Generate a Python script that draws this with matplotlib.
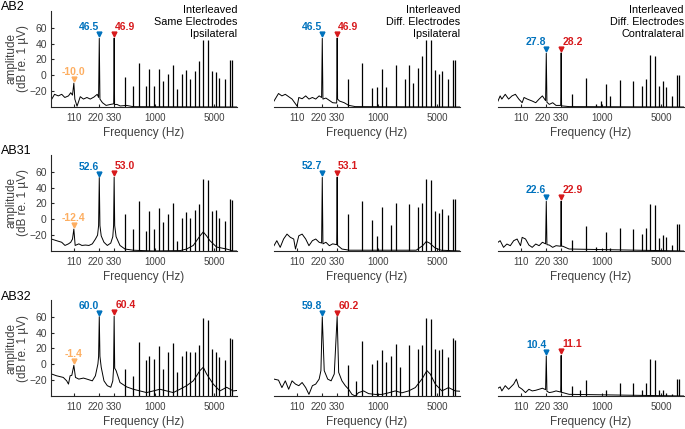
import numpy as np
import matplotlib.pyplot as plt
from matplotlib.transforms import offset_copy, ScaledTranslation

plt.rcParams["font.family"] = ["Liberation Sans", "DejaVu Sans"]

subjects = ["AB2", "AB31", "AB32"]
conditions = ["Interleaved\nSame Electrodes\nIpsilateral",
              "Interleaved\nDiff. Electrodes\nIpsilateral",
              "Interleaved\nDiff. Electrodes\nContralateral"]
xticks = [110, 220, 330, 1000, 5000]
yticks = [-20, 0, 20, 40, 60]

# labelled response peaks (dB re. 1 uV), rows = subjects, cols = conditions
amp_220 = [[46.5, 46.5, 27.8], [52.6, 52.7, 22.6], [60.0, 59.8, 10.4]]
amp_330 = [[46.9, 46.9, 28.2], [53.0, 53.1, 22.9], [60.4, 60.2, 11.1]]
amp_110 = [-10.0, -12.4, -1.4]  # same-electrode condition only

# stimulation artefact lines (Hz) and their heights per panel (None = absent)
art_freq = [443, 546, 655, 778, 852, 977, 1109, 1260, 1443, 1639, 1811, 2076,
            2316, 2606, 2958, 3329, 3680, 4293, 4745, 5292, 5739, 6824, 7745, 8254]
art_ab2_same = [-2, -13, 15.4, -14, 8, -13, 8, -7, 2, 12.5, -17, 2,
                7, -4.5, 6, 17.5, 44.6, 44, 5, 4, -3, -5, 19.6, 19]
art_ab2_diff = [-4.6, None, 16, None, -16, -14.6, 8, -14.6, None, 13, None, -4.6,
                13, -10, 9, 24, 44.6, 44, 7, 2, 6, -5, 19, 19]
art_ab2_contra = [-24, None, -3, None, -36, -33, -11, -26, None, -5.4, None, None,
                  -6.7, None, -13, -4.6, 26, 24, -14, -6.7, -14.6, -26, 0.8, 0.8]
art_ab31_same = [6.4, -12, 23, -14.5, 10.6, -12, 13.6, -3, 6.4, 20, -27, 2,
                 9, 2, 12, 19, 51, 49.5, 10.6, 12, 2, -2, 26, 24]
art_ab31_diff = [6.4, None, 23, None, -0.7, -21, 15, None, -7, 20, None, None,
                 19, None, 15, 21, 51, 49.5, 10.6, 8.5, 12.7, 5, 26, 25]
art_ab31_contra = [-26, None, -8, None, -35, None, -15.7, -36, None, -11.5, None, None,
                   -12, None, -18, -11.5, 19, 17.7, -24, -20, -22, -33, -6, -6]
art_ab32_same = [-6, -14.5, 28, 5, 10, 7, 22.5, -6, 15, 27, -10, 11,
                 16.6, 15, 15, 24, 58, 55.7, 19.6, 15, 9, 5, 33.6, 32]
art_ab32_diff = [-0.4, -21, 29, None, 0.4, 5, 17.4, 2.6, 11, 26, -3, None,
                 24.7, None, 19.6, 23.8, 58, 56.6, 19.6, 17.4, 19.6, 9, 33.6, 31]
art_ab32_contra = [-27, -33, -20, None, None, None, -33, None, None, -24, None, None,
                   -24, None, -33, -23, 7, 5.5, -33, -33, -36, -37, -18.5, -19]

# background (noise floor)
f_ab2_same = [60, 65, 72, 79, 86, 95, 101, 106, 113, 120, 131, 143, 157, 172, 190, 208,
              216, 224, 240, 265, 300, 326, 334, 355, 390, 460, 556, 9400]
db_ab2_same = [-30.4, -24, -26, -24, -28, -26, -22, -25, -30, -39, -27, -30, -28, -30, -27.5, -24,
               -28, -30, -34.6, -38, -36.7, -36, -37, -36.7, -38.7, -38, -39.6, -40]
f_ab2_diff = [59, 66.7, 73.2, 80.3, 88, 96.5, 111, 116, 127, 140, 153, 168, 184, 202,
              216, 224, 243, 267, 292, 326, 334, 352, 400, 451, 541, 9400]
db_ab2_diff = [-32.5, -23, -26, -24, -27, -30, -39, -28, -29.6, -26, -30, -28, -30, -26,
               -28, -30, -28.75, -31.7, -34.6, -35, -30, -32.5, -34.6, -37.9, -39.5, -40]
f_ab2_contra = [59, 62.6, 65.5, 71.9, 78.8, 86.4, 94.8, 104, 114, 120, 131, 150, 165, 181,
                198, 216, 224, 239, 262, 287, 326, 334, 345, 410, 9400]
db_ab2_contra = [-32.5, -26, -30, -24, -30, -26, -24, -30, -34.6, -28, -30, -32.5, -34.6, -30,
                 -26, -32, -34, -36.7, -34.6, -38, -38, -38.7, -38.7, -39.5, -40]
f_ab31_same = [60, 68.6, 79, 86.4, 95, 101, 106, 114, 126, 137, 151, 166, 182, 198, 210,
               216, 224, 232, 250, 274, 301, 318, 325, 335, 348, 387, 443, 556, 960,
               2000, 2380, 2853, 3125, 3422, 3748, 4104, 4493, 5388, 7074, 8485, 9400]
db_ab31_same = [-25, -27, -29, -33, -31, -29, -25, -33, -31, -33, -32.5, -33, -31, -25, -20,
                -8, -8, -21, -29, -33, -30, -22, -8, -8, -22, -33, -37.5, -39, -40,
                -39.5, -37.5, -33, -27, -21, -16, -21, -27, -35, -37.5, -40, -40]
f_ab31_diff = [59, 63.7, 69.9, 76.6, 84.1, 92.2, 101, 106, 116, 127, 140, 153, 168, 184, 202,
               216, 224, 243, 267, 292, 326, 334, 344, 376, 460, 2850, 3420, 3750, 4100,
               4750, 5600, 9400]
db_ab31_diff = [-33.3, -27, -35.4, -24.9, -18.7, -22.8, -24.9, -37.5, -20.8, -18.7, -24.9, -33.3,
                -27, -24.9, -29, -30, -31, -29, -33.3, -31, -32, -33, -34, -37.5, -39, -39,
                -33, -28, -30, -36, -39, -40]
f_ab31_contra = [59, 62.6, 68.6, 75.2, 82.5, 90.5, 99.3, 109, 114, 125, 137, 150, 165, 181,
                 198, 216, 224, 239, 262, 287, 326, 334, 345, 410, 9400]
db_ab31_contra = [-29, -27, -35.4, -31.2, -33.3, -27, -24.9, -33.3, -22.8, -24.9, -32.5, -35.4,
                  -31.2, -33.3, -29, -31, -32, -32.5, -35.4, -33.3, -34, -34, -34, -37.5, -40]
f_ab32_same = [60, 68.6, 82.5, 90.5, 95, 99.3, 104, 115, 126, 143, 157, 182, 198, 212, 216,
               224, 232, 250, 274, 301, 318, 325, 335, 348, 387, 464, 556, 667, 800, 959,
               1151, 1380, 1654, 1984, 2380, 2853, 3422, 3748, 4104, 4920, 5900, 7074,
               8485, 9400]
db_ab32_same = [-12.3, -14.5, -16.6, -20.9, -25, -14.5, -14, -16.6, -18.7, -17.4, -18.7, -20.9,
                -14.5, 0.4, 10, 10, -3.8, -20.9, -27, -29, -21, -5, -5, -8, -23, -28.5,
                -31.5, -33.6, -35.7, -33.6, -31.5, -33.6, -35.7, -31.5, -27, -20.9, -8,
                -3.8, -12.3, -25, -33.6, -29, -33.6, -33]
f_ab32_diff = [59, 66.7, 73.2, 80.3, 88, 96.5, 106, 116, 127, 140, 153, 168, 184, 202, 212,
               232, 255, 280, 305, 344, 376, 412, 451, 494, 541, 593, 679, 778, 933, 1119,
               1342, 1610, 1930, 2316, 2777, 3329, 3814, 4178, 4790, 5739, 6885, 8254, 9400]
db_ab32_diff = [-18.7, -20, -29.4, -20.9, -31.5, -20.9, -25, -27, -23, -29.4, -37.9, -27, -25,
                -18.7, -8, -8, -18.7, -20.9, -12.3, -10.2, -20.9, -27, -31.5, -37.9, -40,
                -35.7, -33.6, -37, -38, -38, -36, -33.6, -36, -33.6, -29.4, -18.7, -8,
                -12.3, -25, -33.6, -29.4, -33.6, -34]
f_ab32_contra = [59, 62.6, 65.5, 71.9, 78.8, 90.5, 97.4, 104, 114, 125, 137, 150, 165, 181,
                 198, 216, 224, 239, 262, 287, 326, 334, 345, 410, 9400]
db_ab32_contra = [-30.2, -28.5, -33.6, -27, -31.5, -25, -18.7, -28.5, -31.5, -35.7, -31.5,
                  -33.6, -32.8, -31.5, -30.2, -32, -34, -35.7, -34.9, -33.6, -35, -35.7,
                  -35.7, -37.9, -40]

floor_f = [[f_ab2_same, f_ab2_diff, f_ab2_contra],
           [f_ab31_same, f_ab31_diff, f_ab31_contra],
           [f_ab32_same, f_ab32_diff, f_ab32_contra]]
floor_db = [[db_ab2_same, db_ab2_diff, db_ab2_contra],
            [db_ab31_same, db_ab31_diff, db_ab31_contra],
            [db_ab32_same, db_ab32_diff, db_ab32_contra]]
art_db = [[art_ab2_same, art_ab2_diff, art_ab2_contra],
          [art_ab31_same, art_ab31_diff, art_ab31_contra],
          [art_ab32_same, art_ab32_diff, art_ab32_contra]]

BLUE, RED, ORANGE = "#0072BD", "#D7191C", "#FDAE61"
GREY = "#404040"
W, H = 685, 429
col_left = [51, 274, 498]
row_top = [11, 155, 300]
col_w, row_h = 186, 96
ylim = (-40, 81)

fig = plt.figure(figsize=(W / 100, H / 100), dpi=100)

for r in range(3):
    for c in range(3):
        ax = fig.add_axes([col_left[c] / W, 1 - (row_top[r] + row_h) / H, col_w / W, row_h / H])

        # background spectrum, with the labelled peaks merged in
        f = list(floor_f[r][c]) + [220, 330]
        d = list(floor_db[r][c]) + [amp_220[r][c], amp_330[r][c]]
        if c == 0:
            f.append(110)
            d.append(amp_110[r])
        order = np.argsort(f)
        ax.plot(np.array(f)[order], np.array(d)[order], color="k", lw=0.7)

        a = np.array(art_db[r][c], dtype=float)
        ok = ~np.isnan(a)
        ax.vlines(np.array(art_freq)[ok], ylim[0], a[ok], color="k", lw=0.9)

        ax.set_xscale("log")
        ax.set_xlim(59, 9400)
        ax.set_ylim(*ylim)
        ax.set_xticks(xticks)
        ax.set_xticklabels([str(t) for t in xticks])
        ax.minorticks_off()
        ax.tick_params(axis="both", direction="in", length=2, labelcolor=GREY,
                       color="#262626", pad=4)
        ax.tick_params(axis="x", labelsize=7)
        ax.tick_params(axis="y", labelsize=7.5, pad=3)
        # the 220 label is nudged left in the original so it clears 330
        for lbl in ax.get_xticklabels():
            if lbl.get_text() == "220":
                lbl.set_transform(lbl.get_transform() + ScaledTranslation(-0.04, 0, fig.dpi_scale_trans))
        for s in ["top", "right"]:
            ax.spines[s].set_visible(False)
        ax.spines["bottom"].set_color("#262626")
        ax.spines["left"].set_color("#262626")
        ax.set_xlabel("Frequency (Hz)", fontsize=8.5, color=GREY, labelpad=3)

        if c == 0:
            ax.set_yticks(yticks)
            ax.set_ylabel("amplitude\n(dB re. 1 µV)", fontsize=8.5, color=GREY, linespacing=1.0)
            ax.yaxis.set_label_coords(-0.118, 0.5)
        else:
            ax.spines["left"].set_visible(False)
            ax.set_yticks([])

        mk = offset_copy(ax.transData, fig=fig, y=4, units="dots")
        tl = offset_copy(ax.transData, fig=fig, x=0, y=8, units="dots")
        tr = offset_copy(ax.transData, fig=fig, x=1, y=8, units="dots")
        ax.plot(220, amp_220[r][c], "v", color=BLUE, ms=3.5, transform=mk, clip_on=False)
        ax.plot(330, amp_330[r][c], "v", color=RED, ms=3.5, transform=mk, clip_on=False)
        ax.text(220, amp_220[r][c], f"{amp_220[r][c]:.1f}", color=BLUE, ha="right",
                va="baseline", fontsize=7.5, fontweight="bold", transform=tl)
        ax.text(330, amp_330[r][c], f"{amp_330[r][c]:.1f}", color=RED, ha="left",
                va="baseline", fontsize=7.5, fontweight="bold", transform=tr)
        if c == 0:
            ax.plot(110, amp_110[r], "v", color=ORANGE, ms=3.5, transform=mk, clip_on=False)
            ax.text(110, amp_110[r], f"{amp_110[r]:.1f}", color=ORANGE, ha="center",
                    va="baseline", fontsize=7.5, fontweight="bold", transform=tl)

        if r == 0:
            ax.text(1.0, 1.0625, conditions[c], transform=ax.transAxes, ha="right",
                    va="top", fontsize=7.8, linespacing=1.25)

label_y = [7.5, 151.5, 296.5]
for r in range(3):
    fig.text(0.001, 1 - label_y[r] / H, subjects[r], ha="left", va="center", fontsize=9)

fig.savefig("out.png", dpi=100)
